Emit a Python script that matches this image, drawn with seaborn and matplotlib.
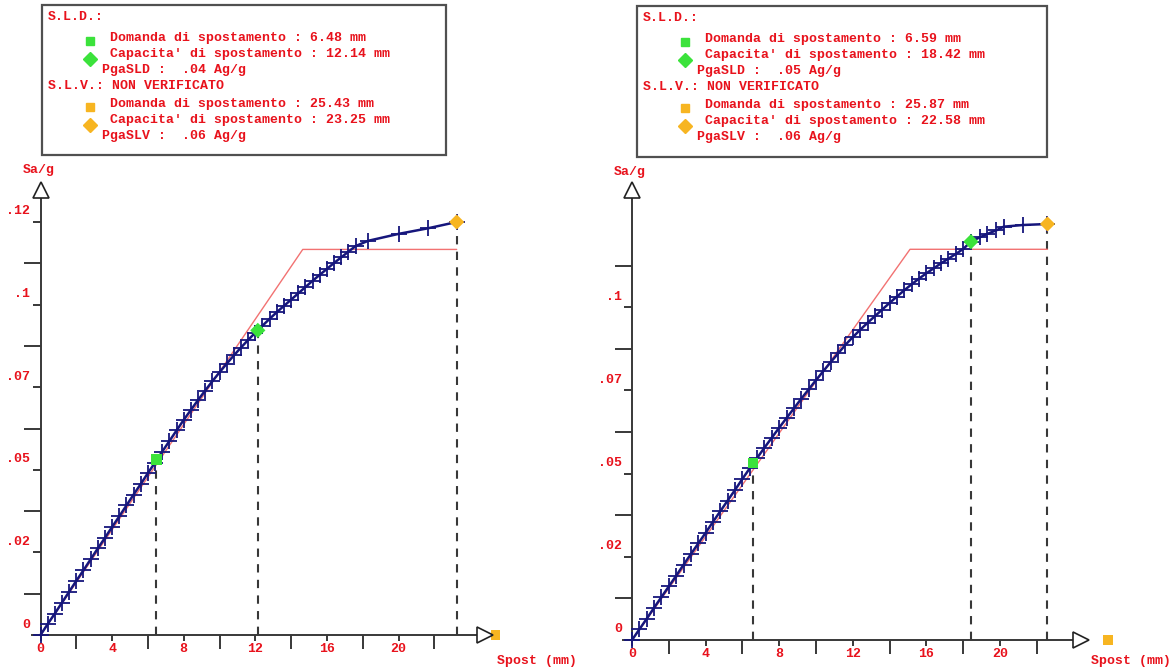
import numpy as np
import seaborn as sns
import matplotlib.pyplot as plt
from matplotlib.lines import Line2D
from matplotlib.patches import Rectangle
from matplotlib.transforms import ScaledTranslation

# Data
# left panel: capacity curve (spost mm, Sa/g)
left_x = [0.0, 0.4, 0.8, 1.2, 1.6, 2.0, 2.4, 2.8, 3.2, 3.6, 4.0, 4.4, 4.8, 5.2,
          5.6, 6.0, 6.4, 6.8, 7.2, 7.6, 8.0, 8.4, 8.8, 9.2, 9.6, 10.0, 10.4,
          10.8, 11.2, 11.6, 12.0, 12.4, 12.8, 13.2, 13.6, 14.0, 14.4, 14.8,
          15.2, 15.6, 16.0, 16.4, 16.8, 17.2, 17.6, 18.3, 20.0, 21.65, 23.25]
left_y = [0.0, .0033, .0065, .0098, .0131, .0164, .0196, .0229, .0262, .0294,
          .0327, .0359, .0392, .0425, .0457, .0490, .0522, .0555, .0587, .0619,
          .0651, .0681, .0711, .0740, .0768, .0795, .0821, .0846, .0870, .0893,
          .0915, .0936, .0957, .0977, .0996, .1015, .1034, .1053, .1072, .1090,
          .1108, .1126, .1143, .1160, .1177, .1193, .1214, .1231, .1250]
left_bilin_x = [0.0, 14.65, 23.25]
left_bilin_y = [0.0, 0.1167, 0.1167]
left_sld_demand = (6.48, 0.0531)
left_sld_capacity = (12.14, 0.0922)
left_slv_capacity = (23.25, 0.1250)
left_slv_demand = (25.43, 0.0)

# right panel
right_x = [0.0, 0.4, 0.8, 1.2, 1.6, 2.0, 2.4, 2.8, 3.2, 3.6, 4.0, 4.4, 4.8, 5.2,
           5.6, 6.0, 6.4, 6.8, 7.2, 7.6, 8.0, 8.4, 8.8, 9.2, 9.6, 10.0, 10.4,
           10.8, 11.2, 11.6, 12.0, 12.4, 12.8, 13.2, 13.6, 14.0, 14.4, 14.8,
           15.2, 15.6, 16.0, 16.4, 16.8, 17.2, 17.6, 18.0, 18.42, 18.9, 19.3,
           19.8, 20.2, 21.25, 22.58]
right_y = [0.0, .0032, .0064, .0097, .0129, .0161, .0193, .0226, .0258, .0290,
           .0322, .0355, .0387, .0419, .0451, .0484, .0516, .0547, .0578, .0608,
           .0638, .0667, .0696, .0725, .0753, .0781, .0808, .0835, .0861, .0887,
           .0910, .0932, .0953, .0973, .0993, .1013, .1032, .1051, .1069, .1086,
           .1102, .1117, .1132, .1146, .1160, .1175, .1197, .1210, .1220, .1231,
           .1242, .1247, .1250]
right_bilin_x = [0.0, 15.11, 22.58]
right_bilin_y = [0.0, 0.1174, 0.1174]
right_sld_demand = (6.59, 0.0531)
right_sld_capacity = (18.42, 0.1197)
right_slv_capacity = (22.58, 0.1250)
right_slv_demand = (25.87, 0.0)

# ticks
x_major = [0, 4, 8, 12, 16, 20]
x_major_labels = ["0", "4", "8", "12", "16", "20"]
x_minor = [2, 6, 10, 14, 18, 22]
left_y_major = [0, 0.025, 0.05, 0.075, 0.1, 0.125]
left_y_labels = ["0", ".02", ".05", ".07", ".1", ".12"]
left_y_minor = [0.0125, 0.0375, 0.0625, 0.0875, 0.1125]
right_y_major = [0, 0.025, 0.05, 0.075, 0.1]
right_y_labels = ["0", ".02", ".05", ".07", ".1"]
right_y_minor = [0.0125, 0.0375, 0.0625, 0.0875, 0.1125]

# info box texts
left_box = ["S.L.D.:",
            "Domanda di spostamento : 6.48 mm",
            "Capacita' di spostamento : 12.14 mm",
            "PgaSLD :  .04 Ag/g",
            "S.L.V.: NON VERIFICATO",
            "Domanda di spostamento : 25.43 mm",
            "Capacita' di spostamento : 23.25 mm",
            "PgaSLV :  .06 Ag/g"]
right_box = ["S.L.D.:",
             "Domanda di spostamento : 6.59 mm",
             "Capacita' di spostamento : 18.42 mm",
             "PgaSLD :  .05 Ag/g",
             "S.L.V.: NON VERIFICATO",
             "Domanda di spostamento : 25.87 mm",
             "Capacita' di spostamento : 22.58 mm",
             "PgaSLV :  .06 Ag/g"]

RED = "#e8121c"
NAVY = "#16167c"
PINK = "#f27272"
GREEN = "#3be23b"
ORANGE = "#f7b521"
GREY = "#383838"

W, H = 1173, 670

sns.set_theme(style="white")
plt.rcParams["font.family"] = ["Liberation Mono", "DejaVu Sans Mono"]
plt.rcParams["font.weight"] = "bold"

fig = plt.figure(figsize=(W / 100, H / 100), dpi=100)
fig.patch.set_facecolor("white")


def fx(px):
    return px / W


def fy(py):
    return 1 - py / H


def draw_panel(x0_px, y0_px, ppm, ppg, left_px, right_px, top_px, bot_px,
               cx, cy, bx, by, sld_d, sld_c, slv_c, slv_d,
               y_major, y_labels, y_minor, xarrow_px, box, box_rect,
               sag_px, spost_px):
    ax = fig.add_axes([fx(left_px), fy(bot_px), (right_px - left_px) / W,
                       (bot_px - top_px) / H])
    ax.set_xlim((left_px - x0_px) / ppm, (right_px - x0_px) / ppm)
    ax.set_ylim((y0_px - bot_px) / ppg, (y0_px - top_px) / ppg)
    ax.patch.set_alpha(0)

    for s in ["top", "right"]:
        ax.spines[s].set_visible(False)
    ax.spines["left"].set_position(("data", 0))
    ax.spines["bottom"].set_position(("data", 0))
    y_arrow = (y0_px - 190) / ppg
    x_arrow = (xarrow_px - x0_px) / ppm
    ax.spines["left"].set_bounds(0, (y0_px - 197) / ppg)
    ax.spines["bottom"].set_bounds(-9 / ppm, x_arrow - 6 / ppm)
    for s in ["left", "bottom"]:
        ax.spines[s].set_color(GREY)
        ax.spines[s].set_linewidth(1.4)

    ax.plot(0, y_arrow, marker="^", ms=11, mfc="white", mec="#222222",
            mew=1.2, clip_on=False, zorder=6)
    ax.plot(x_arrow, 0, marker=">", ms=11, mfc="white", mec="#222222",
            mew=1.2, clip_on=False, zorder=6)

    ax.set_xticks(x_major)
    ax.set_xticklabels(x_major_labels)
    ax.set_xticks(x_minor, minor=True)
    ax.set_yticks(y_major)
    ax.set_yticklabels(y_labels)
    ax.set_yticks(y_minor, minor=True)
    ax.tick_params(which="both", bottom=True, left=True, top=False,
                   right=False)
    ax.tick_params(axis="x", which="major", length=4.3, width=1.4,
                   direction="out", pad=1.5, color=GREY, labelcolor=RED,
                   labelsize=9.5)
    ax.tick_params(axis="x", which="minor", length=10, width=1.4,
                   direction="out", color=GREY)
    ax.tick_params(axis="y", which="major", length=5.8, width=1.4,
                   direction="out", pad=1.5, color=GREY, labelcolor=RED,
                   labelsize=9.5)
    ax.tick_params(axis="y", which="minor", length=12, width=1.4,
                   direction="out", color=GREY)
    off = ScaledTranslation(0, 12 / 100, fig.dpi_scale_trans)
    for lab in ax.get_yticklabels():
        lab.set_transform(lab.get_transform() + off)
        lab.set_fontweight("bold")
    for lab in ax.get_xticklabels():
        lab.set_fontweight("bold")

    # bilinear and capacity curve
    sns.lineplot(x=bx, y=by, ax=ax, color=PINK, lw=1.0, sort=False,
                 estimator=None, zorder=2)
    sns.lineplot(x=cx, y=cy, ax=ax, color=NAVY, lw=1.8, sort=False,
                 estimator=None, marker="+", markersize=11,
                 markeredgewidth=1.3, markeredgecolor=NAVY, zorder=3)

    # dashed verticals
    ax.vlines([sld_d[0], sld_c[0], slv_c[0]], 0, [sld_d[1], sld_c[1], slv_c[1]],
              colors=GREY, linestyles=(0, (4, 3.5)), lw=1.5, zorder=1)

    sns.scatterplot(x=[sld_d[0]], y=[sld_d[1]], ax=ax, marker="s", s=55,
                    color=GREEN, edgecolor="none", zorder=5)
    sns.scatterplot(x=[sld_c[0]], y=[sld_c[1]], ax=ax, marker="D", s=60,
                    color=GREEN, edgecolor="none", zorder=5)
    sns.scatterplot(x=[slv_c[0]], y=[slv_c[1]], ax=ax, marker="D", s=60,
                    color=ORANGE, edgecolor="none", zorder=5)
    sns.scatterplot(x=[slv_d[0]], y=[slv_d[1]], ax=ax, marker="s", s=45,
                    color=ORANGE, edgecolor="none", zorder=5, clip_on=False)
    ax.set_xlabel("")
    ax.set_ylabel("")

    fig.text(fx(sag_px[0]), fy(sag_px[1]), "Sa/g", color=RED, fontsize=9.5,
             fontweight="bold", ha="center", va="center")
    fig.text(fx(spost_px[0]), fy(spost_px[1]), "Spost (mm)", color=RED,
             fontsize=9.5, fontweight="bold", ha="left", va="center")

    # info box
    bl, bt, br, bb = box_rect
    fig.add_artist(Rectangle((fx(bl), fy(bb)), (br - bl) / W, (bb - bt) / H,
                             transform=fig.transFigure, facecolor="white",
                             edgecolor="#505050", lw=1.6))
    rel_y = [12, 33, 49, 65, 81, 99, 115, 131]
    rel_x = [6, 68, 68, 60, 6, 68, 68, 60]
    for txt, ry, rx in zip(box, rel_y, rel_x):
        fig.text(fx(bl + rx), fy(bt + ry), txt, color=RED, fontsize=9.5,
                 fontweight="bold", ha="left", va="center")
    marks = [(1, "s", GREEN, 6, 3), (2, "D", GREEN, 7, 5),
             (5, "s", ORANGE, 6, 3), (6, "D", ORANGE, 7, 5)]
    for i, m, c, ms, dy in marks:
        fig.add_artist(Line2D([fx(bl + 48)], [fy(bt + rel_y[i] + dy)],
                              transform=fig.transFigure, marker=m, ms=ms,
                              color=c, ls="none"))
    return ax


draw_panel(40.5, 635, 17.9, 3304, 30, 500, 180, 645,
           left_x, left_y, left_bilin_x, left_bilin_y,
           left_sld_demand, left_sld_capacity, left_slv_capacity,
           left_slv_demand, left_y_major, left_y_labels, left_y_minor,
           485, left_box, (42, 5, 446, 155), (39, 170), (497, 661))

draw_panel(632, 640, 18.4, 3328, 622, 1100, 180, 650,
           right_x, right_y, right_bilin_x, right_bilin_y,
           right_sld_demand, right_sld_capacity, right_slv_capacity,
           right_slv_demand, right_y_major, right_y_labels, right_y_minor,
           1081, right_box, (637, 6, 1047, 157), (630, 172), (1091, 661))

fig.savefig("out.png", dpi=100, facecolor="white")
